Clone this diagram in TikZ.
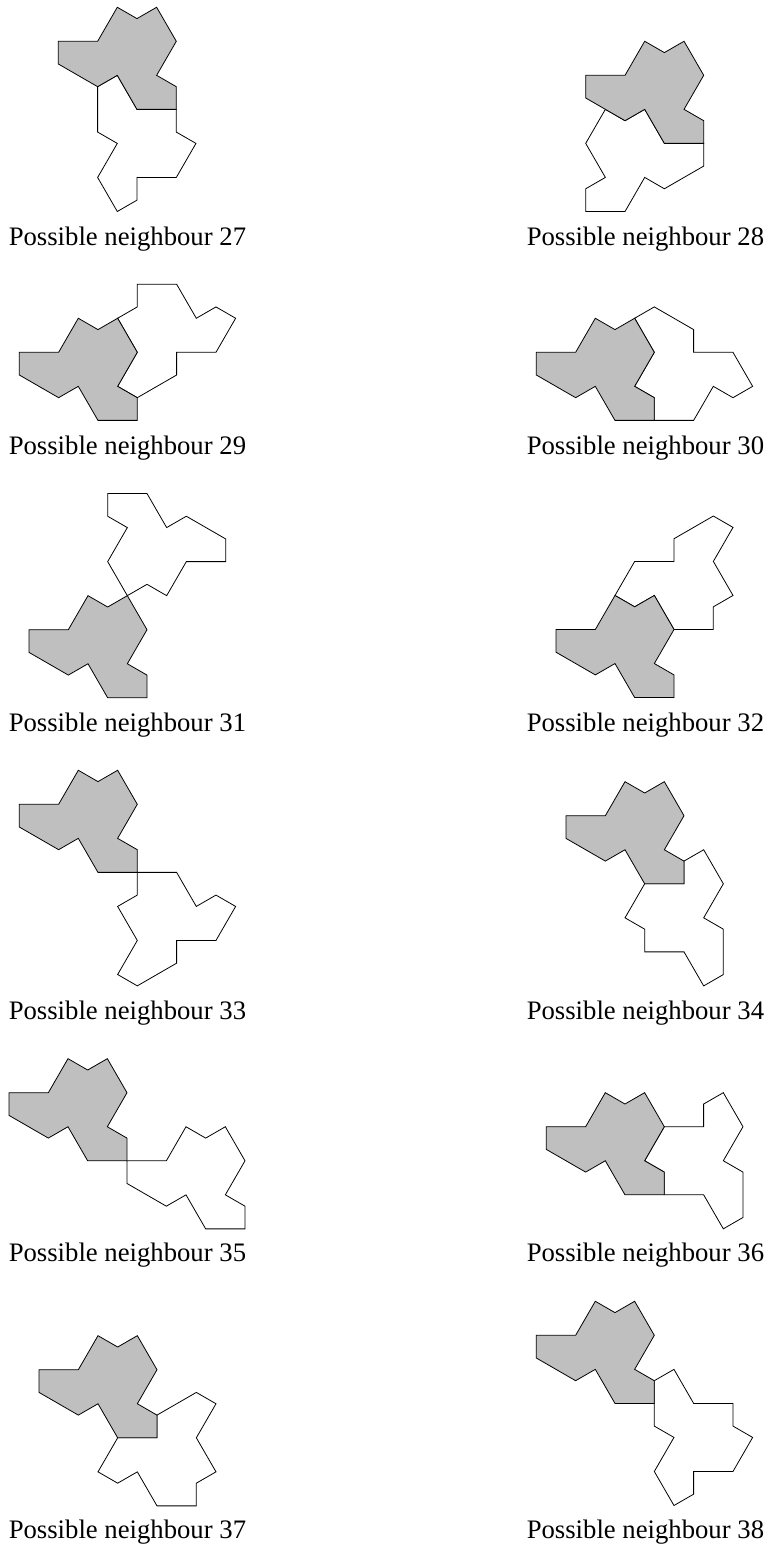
\documentclass[tikz,border=0pt]{standalone}
\usepackage{fontspec}
\setmainfont{Liberation Serif}
\definecolor{hatgrey}{HTML}{BFBFBF}
% grid steps of the tile, in reference pixels
\newcommand{\hatgreypath}{(0,0) -- (2,0) -- (3,3) -- (4,2) -- (5,3) -- (6,0) -- (5,-3) -- (6,-4) -- (6,-6) -- (4,-6) -- (3,-3) -- (2,-4) -- (0,-2) -- cycle}
\newcommand{\hatpanel}[3]{%
  \begin{scope}[shift={(#1,-#2)}, x=14.75bp, y=8.51bp]
    \draw[hatline] #3 -- cycle;
    \fill[hatgrey] \hatgreypath;
    \draw[hatline] \hatgreypath;
  \end{scope}}

\begin{document}
\begin{tikzpicture}[
  x=0.75bp, y=0.75bp,
  hatline/.style={draw=black, line width=0.6pt, line join=miter},
  captext/.style={anchor=base west, inner sep=0pt, font=\fontsize{20.1}{24}\selectfont},
]
\useasboundingbox (0,0) rectangle (768,-1548);

% Row 1
\hatpanel{58.3}{41.3}{(2,-4) -- (2,-8) -- (3,-9) -- (2,-12) -- (3,-15) -- (4,-14) -- (4,-12) -- (6,-12) -- (7,-9) -- (6,-8) -- (6,-6) -- (4,-6) -- (3,-3)}
\node[captext] (cap27) at (8.5,-245) {Possible neighbour 27};

\hatpanel{585.7}{75.3}{(1,-3) -- (0,-6) -- (1,-9) -- (0,-10) -- (0,-12) -- (2,-12) -- (3,-9) -- (4,-10) -- (6,-8) -- (6,-6) -- (4,-6) -- (3,-3) -- (2,-4)}
\node[captext] (cap28) at (526.5,-245) {Possible neighbour 28};

% Row 2
\hatpanel{19.3}{352.3}{(5,3) -- (6,4) -- (6,6) -- (8,6) -- (9,3) -- (10,4) -- (11,3) -- (10,0) -- (8,0) -- (8,-2) -- (6,-4) -- (5,-3) -- (6,0)}
\node[captext] (cap29) at (8.5,-454) {Possible neighbour 29};

\hatpanel{536.3}{352.3}{(5,3) -- (6,4) -- (8,2) -- (8,0) -- (10,0) -- (11,-3) -- (10,-4) -- (9,-3) -- (8,-6) -- (6,-6) -- (6,-4) -- (5,-3) -- (6,0)}
\node[captext] (cap30) at (526.5,-454) {Possible neighbour 30};

% Row 3
\hatpanel{29}{629.7}{(5,3) -- (4,6) -- (5,9) -- (4,10) -- (4,12) -- (6,12) -- (7,9) -- (8,10) -- (10,8) -- (10,6) -- (8,6) -- (7,3) -- (6,4)}
\node[captext] (cap31) at (8.5,-731) {Possible neighbour 31};

\hatpanel{556}{629.5}{(3,3) -- (4,6) -- (6,6) -- (6,8) -- (8,10) -- (9,9) -- (8,6) -- (9,3) -- (8,2) -- (8,0) -- (6,0) -- (5,3) -- (4,2)}
\node[captext] (cap32) at (526.5,-731) {Possible neighbour 32};

% Row 4
\hatpanel{19.3}{804.3}{(6,-6) -- (8,-6) -- (9,-9) -- (10,-8) -- (11,-9) -- (10,-12) -- (8,-12) -- (8,-14) -- (6,-16) -- (5,-15) -- (6,-12) -- (5,-9) -- (6,-8)}
\node[captext] (cap33) at (8.5,-1019) {Possible neighbour 33};

\hatpanel{566}{815.7}{(6,-4) -- (7,-3) -- (8,-6) -- (7,-9) -- (8,-10) -- (8,-14) -- (7,-15) -- (6,-12) -- (4,-12) -- (4,-10) -- (3,-9) -- (4,-6) -- (6,-6)}
\node[captext] (cap34) at (526.5,-1019) {Possible neighbour 34};

% Row 5
\hatpanel{9}{1092.7}{(6,-6) -- (8,-6) -- (9,-3) -- (10,-4) -- (11,-3) -- (12,-6) -- (11,-9) -- (12,-10) -- (12,-12) -- (10,-12) -- (9,-9) -- (8,-10) -- (6,-8)}
\node[captext] (cap35) at (8.5,-1261.5) {Possible neighbour 35};

\hatpanel{546.3}{1126.7}{(6,0) -- (8,0) -- (8,2) -- (9,3) -- (10,0) -- (9,-3) -- (10,-4) -- (10,-8) -- (9,-9) -- (8,-6) -- (6,-6) -- (6,-4) -- (5,-3)}
\node[captext] (cap36) at (526.5,-1261.5) {Possible neighbour 36};

% Row 6
\hatpanel{39}{1369.7}{(6,-4) -- (8,-2) -- (9,-3) -- (8,-6) -- (9,-9) -- (8,-10) -- (8,-12) -- (6,-12) -- (5,-9) -- (4,-10) -- (3,-9) -- (4,-6) -- (6,-6)}
\node[captext] (cap37) at (8.5,-1538) {Possible neighbour 37};

\hatpanel{536.3}{1335.3}{(6,-4) -- (7,-3) -- (8,-6) -- (10,-6) -- (10,-8) -- (11,-9) -- (10,-12) -- (8,-12) -- (8,-14) -- (7,-15) -- (6,-12) -- (7,-9) -- (6,-8)}
\node[captext] (cap38) at (526.5,-1538) {Possible neighbour 38};

\end{tikzpicture}
\end{document}
